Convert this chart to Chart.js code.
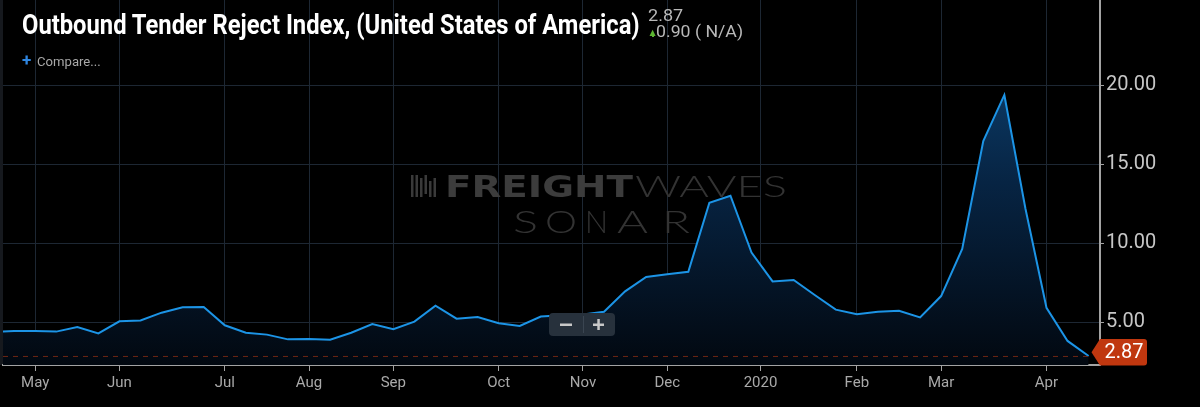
<!DOCTYPE html>
<html>
<head>
<meta charset="utf-8">
<script src="https://cdn.jsdelivr.net/npm/chart.js@4.4.0/dist/chart.umd.min.js"></script>
<style>
  html, body { margin: 0; padding: 0; background: #000; }
  #wrap { position: relative; width: 1200px; height: 407px; overflow: hidden; background: #000; }
  #chart { position: absolute; left: 0; top: 0; }
  .txt { position: absolute; white-space: nowrap; transform-origin: 0 0; font-family: Roboto, sans-serif; }
  #title { left: 22px; top: 11.4px; font-size: 28px; line-height: 28px; font-weight: bold; color: #fff; }
  #last { left: 648px; top: 7.8px; font-size: 16.5px; line-height: 16.5px; color: #b8b8b8; }
  #arrow { left: 649.5px; top: 29px; font-size: 8px; line-height: 8px; color: #5cb531; font-family: "DejaVu Sans", sans-serif; }
  #stem { position: absolute; left: 651.5px; top: 33px; width: 2.5px; height: 4px; background: #5cb531; }
  #chg { left: 656px; top: 24.4px; font-size: 16.5px; line-height: 16.5px; color: #b8b8b8; }
  #plus { left: 22px; top: 52px; font-size: 17px; line-height: 17px; color: #2f86e0; font-weight: bold; }
  #compare { left: 37px; top: 55.5px; font-size: 12.5px; line-height: 12.5px; color: #a8a8a8; }
</style>
</head>
<body>
<div id="wrap">
  <canvas id="chart" width="1200" height="407"></canvas>
  <div class="txt fit" id="title" data-w="618">Outbound Tender Reject Index, (United States of America)</div>
  <div class="txt fit" id="last" data-w="35">2.87</div>
  <div class="txt" id="arrow">▲</div>
  <div id="stem"></div>
  <div class="txt fit" id="chg" data-w="87">0.90 ( N/A)</div>
  <div class="txt" id="plus">+</div>
  <div class="txt fit" id="compare" data-w="64">Compare...</div>
</div>
<script>
// weekly observations (week ending Sunday)
const weeks = [
  '2019-04-21', '2019-04-28', '2019-05-05', '2019-05-12', '2019-05-19', '2019-05-26',
  '2019-06-02', '2019-06-09', '2019-06-16', '2019-06-23', '2019-06-30',
  '2019-07-07', '2019-07-14', '2019-07-21', '2019-07-28',
  '2019-08-04', '2019-08-11', '2019-08-18', '2019-08-25',
  '2019-09-01', '2019-09-08', '2019-09-15', '2019-09-22', '2019-09-29',
  '2019-10-06', '2019-10-13', '2019-10-20', '2019-10-27',
  '2019-11-03', '2019-11-10', '2019-11-17', '2019-11-24',
  '2019-12-01', '2019-12-08', '2019-12-15', '2019-12-22', '2019-12-29',
  '2020-01-05', '2020-01-12', '2020-01-19', '2020-01-26',
  '2020-02-02', '2020-02-09', '2020-02-16', '2020-02-23',
  '2020-03-01', '2020-03-08', '2020-03-15', '2020-03-22', '2020-03-29',
  '2020-04-05', '2020-04-12', '2020-04-19'
];
const otri = [
  4.40, 4.45, 4.45, 4.41, 4.70, 4.30,
  5.06, 5.12, 5.61, 5.95, 5.97,
  4.81, 4.34, 4.22, 3.92,
  3.94, 3.90, 4.34, 4.89,
  4.56, 5.04, 6.05, 5.23, 5.34,
  4.94, 4.77, 5.36, 5.45,
  5.50, 5.67, 6.96, 7.87,
  8.04, 8.20, 12.57, 13.01, 9.41,
  7.59, 7.68, 6.73, 5.80,
  5.51, 5.67, 5.73, 5.31,
  6.66, 9.64, 16.47, 19.39, 12.20,
  5.92, 3.82, 2.87
];
const yTicks = [5, 10, 15, 20];
const monthNames = ['Jan', 'Feb', 'Mar', 'Apr', 'May', 'Jun', 'Jul', 'Aug', 'Sep', 'Oct', 'Nov', 'Dec'];

// month ticks sit on the first weekly point of each month, the year tick on Jan 1
function monthTicks() {
  const out = [];
  for (let i = 1; i < weeks.length; i++) {
    const a = new Date(weeks[i - 1]), b = new Date(weeks[i]);
    if (a.getUTCMonth() !== b.getUTCMonth()) {
      if (b.getUTCMonth() === 0) {
        const jan1 = Date.UTC(b.getUTCFullYear(), 0, 1);
        out.push({ value: i - 1 + (jan1 - a) / (b - a), label: String(b.getUTCFullYear()) });
      } else {
        out.push({ value: i, label: monthNames[b.getUTCMonth()] });
      }
    }
  }
  return out;
}
const xTicks = monthTicks();

const gridColor = '#1d2733';
const axisColor = '#a3a3a3';

const overlay = {
  id: 'overlay',
  beforeDraw(chart) {
    const ctx = chart.ctx;
    ctx.save();
    ctx.fillStyle = '#16191e';
    ctx.fillRect(0, 0, 3, chart.chartArea.bottom);
    ctx.restore();
  },
  beforeDatasetsDraw(chart) {
    // watermark
    const ctx = chart.ctx;
    ctx.save();
    ctx.textBaseline = 'alphabetic';
    function fitText(text, font, x, w, base, color) {
      ctx.font = font;
      const m = ctx.measureText(text).width;
      ctx.save();
      ctx.translate(x, base);
      ctx.scale(w / m, 1);
      ctx.fillStyle = color;
      ctx.fillText(text, 0, 0);
      ctx.restore();
    }
    ctx.fillStyle = '#3a3a3a';
    const bars = [[411, 175, 197], [415.5, 175, 197], [420, 178, 197], [424.5, 175, 194], [429, 181, 197], [433.5, 178, 197]];
    bars.forEach(b => ctx.fillRect(b[0], b[1], 2.5, b[2] - b[1]));
    fitText('FREIGHT', '900 30px "DejaVu Sans"', 445, 188, 197, '#3c3c3c');
    fitText('WAVES', '300 30px Lato', 635, 152, 197, '#333333');
    [['S', 513, 25], ['O', 545, 32], ['N', 585, 23], ['A', 617, 31], ['R', 662, 28]]
      .forEach(l => fitText(l[0], '300 31px Lato', l[1], l[2], 233, '#333333'));
    ctx.restore();
  },
  afterDraw(chart) {
    const ctx = chart.ctx;
    const area = chart.chartArea;
    const yScale = chart.scales.y;
    const last = otri[otri.length - 1];
    const py = yScale.getPixelForValue(last);
    ctx.save();
    // last value dashed line
    ctx.strokeStyle = '#6e2614';
    ctx.lineWidth = 1;
    ctx.setLineDash([5, 5]);
    ctx.beginPath();
    ctx.moveTo(area.left, py + 0.5);
    ctx.lineTo(1092, py + 0.5);
    ctx.stroke();
    ctx.setLineDash([]);
    // last value flag
    const top = py - 17, bot = py + 9.5, tipY = py - 3.8;
    ctx.fillStyle = '#c0370f';
    ctx.beginPath();
    ctx.moveTo(1091.5, tipY);
    ctx.lineTo(1100, top);
    ctx.lineTo(1144, top);
    ctx.quadraticCurveTo(1147, top, 1147, top + 3);
    ctx.lineTo(1147, bot - 3);
    ctx.quadraticCurveTo(1147, bot, 1144, bot);
    ctx.lineTo(1100, bot);
    ctx.closePath();
    ctx.fill();
    ctx.fillStyle = '#ffffff';
    ctx.font = '20px Roboto';
    ctx.textAlign = 'center';
    ctx.textBaseline = 'middle';
    ctx.fillText(last.toFixed(2), 1124, (top + bot) / 2 + 1);
    // zoom control
    ctx.fillStyle = '#27313c';
    ctx.beginPath();
    ctx.roundRect(549, 313, 66, 23, 4);
    ctx.fill();
    ctx.fillStyle = '#3a4551';
    ctx.fillRect(583, 316, 1, 17);
    ctx.fillStyle = '#c8c8c8';
    ctx.fillRect(560, 323.5, 12, 2.5);
    ctx.fillRect(593, 323.5, 11, 2.5);
    ctx.fillRect(597.3, 319, 2.5, 11);
    ctx.restore();
  }
};

new Chart(document.getElementById('chart'), {
  type: 'line',
  data: {
    datasets: [{
      data: otri.map((v, i) => ({ x: i, y: v })),
      borderColor: '#1c94e6',
      borderWidth: 2,
      pointRadius: 0,
      tension: 0,
      fill: 'start',
      backgroundColor: (c) => {
        const a = c.chart.chartArea;
        if (!a) return 'rgba(0,0,0,0)';
        const g = c.chart.ctx.createLinearGradient(0, a.top, 0, a.bottom);
        g.addColorStop(0, '#0f4a7e');
        g.addColorStop(0.5, '#072443');
        g.addColorStop(1, '#020810');
        return g;
      }
    }]
  },
  options: {
    responsive: false,
    animation: false,
    layout: { padding: { left: 3, top: 0, right: 0, bottom: 0 } },
    plugins: { legend: { display: false }, tooltip: { enabled: false } },
    scales: {
      x: {
        type: 'linear',
        min: 0.473,
        max: 52.54,
        afterBuildTicks: (s) => { s.ticks = xTicks.map(t => ({ value: t.value })); },
        afterFit: (s) => { s.height = 42; s.paddingLeft = 0; s.paddingRight = 0; },
        ticks: {
          autoSkip: false,
          maxRotation: 0,
          color: '#a9a9a9',
          padding: 3,
          font: { family: 'Roboto', size: 15 },
          callback: (v, i) => xTicks[i] ? xTicks[i].label : ''
        },
        grid: { color: gridColor, tickColor: axisColor, tickLength: 6 },
        border: { color: axisColor, width: 2 }
      },
      y: {
        position: 'right',
        min: 2.297,
        max: 25.4,
        afterBuildTicks: (s) => { s.ticks = yTicks.map(v => ({ value: v })); },
        afterFit: (s) => { s.width = 100; s.paddingTop = 0; s.paddingBottom = 0; },
        ticks: {
          color: '#c6c6c6',
          padding: 2,
          font: { family: 'Roboto', size: 20 },
          callback: (v) => Number(v).toFixed(2)
        },
        grid: { color: gridColor, tickColor: axisColor, tickLength: 4 },
        border: { color: axisColor, width: 2 }
      }
    }
  },
  plugins: [overlay]
});

// squeeze the header texts to the condensed widths of the original
document.querySelectorAll('.fit').forEach(el => {
  const w = parseFloat(el.dataset.w);
  el.style.transform = 'scaleX(' + (w / el.offsetWidth) + ')';
});
</script>
</body>
</html>
